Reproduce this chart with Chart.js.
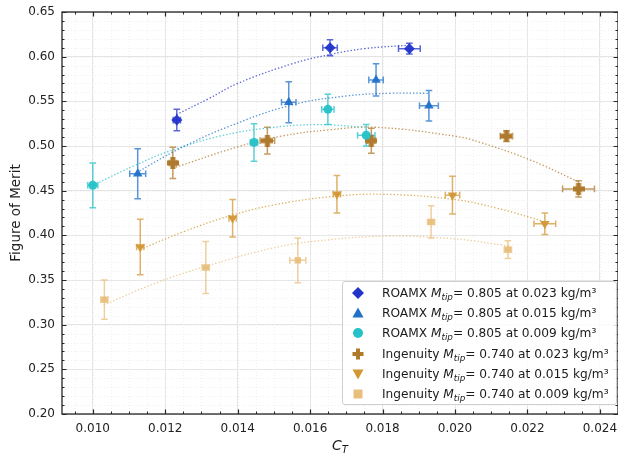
<!DOCTYPE html>
<html>
<head>
<meta charset="utf-8">
<script src="https://cdn.jsdelivr.net/npm/chart.js@4.4.0/dist/chart.umd.min.js"></script>
<style>
  html, body { margin: 0; padding: 0; background: #fff; }
  #wrap { position: relative; width: 618px; height: 457px; font-family: "DejaVu Sans", sans-serif; color: #1a1a1a; }
  #chart { position: absolute; left: 0; top: 0; }
  #legend {
    position: absolute; left: 342px; top: 281px; width: 273px; height: 121px;
    border: 1px solid #cfcfcf; border-radius: 3px; background: rgba(255, 255, 255, 0.85);
    font-size: 12.2px; padding-top: 1px;
  }
  .row { position: relative; height: 20.2px; line-height: 20.2px; white-space: nowrap; }
  .row svg { position: absolute; left: 8px; top: 3px; }
  .row span.txt { position: absolute; left: 39px; top: 0; }
  .row i sub { font-size: 0.72em; vertical-align: -0.3em; line-height: 0; }
  #xTitle { position: absolute; left: 300px; top: 437px; width: 80px; text-align: center; font-size: 14px; line-height: 16px; }
  #xTitle sub { font-size: 0.72em; vertical-align: -0.3em; line-height: 0; }
</style>
</head>
<body>
<div id="wrap">
  <canvas id="chart" width="618" height="457"></canvas>
  <div id="legend"></div>
  <div id="xTitle"><i>C<sub>T</sub></i></div>
</div>
<script>
// Figure of merit vs thrust coefficient, ROAMX vs Ingenuity rotors

// Axis ticks
const xTickValues = [0.010, 0.012, 0.014, 0.016, 0.018, 0.020, 0.022, 0.024];
const yTickValues = [0.20, 0.25, 0.30, 0.35, 0.40, 0.45, 0.50, 0.55, 0.60, 0.65];

// ROAMX, Mtip 0.805, 0.023 kg/m3
const roamx023X = [0.01232, 0.01655, 0.01874];
const roamx023Y = [0.529, 0.610, 0.609];
const roamx023XErr = [0.0001, 0.0002, 0.0003];
const roamx023YErr = [0.012, 0.009, 0.006];
const roamx023FitX = [0.0123, 0.0132, 0.0140, 0.0155, 0.0165, 0.0175, 0.0188];
const roamx023FitY = [0.535, 0.553, 0.570, 0.592, 0.602, 0.609, 0.613];

// ROAMX, Mtip 0.805, 0.015 kg/m3
const roamx015X = [0.01124, 0.01541, 0.01782, 0.01928];
const roamx015Y = [0.469, 0.549, 0.574, 0.545];
const roamx015XErr = [0.00022, 0.0002, 0.0002, 0.00026];
const roamx015YErr = [0.028, 0.023, 0.018, 0.017];
const roamx015FitX = [0.0112, 0.0123, 0.0137, 0.0155, 0.0170, 0.0182, 0.0193];
const roamx015FitY = [0.470, 0.495, 0.521, 0.546, 0.556, 0.559, 0.559];

// ROAMX, Mtip 0.805, 0.009 kg/m3
const roamx009X = [0.0100, 0.01445, 0.01649, 0.01755];
const roamx009Y = [0.456, 0.504, 0.541, 0.512];
const roamx009XErr = [0.00014, 0.0001, 0.00017, 0.00024];
const roamx009YErr = [0.025, 0.021, 0.017, 0.012];
const roamx009FitX = [0.0100, 0.0112, 0.0121, 0.0135, 0.0148, 0.0162, 0.0175];
const roamx009FitY = [0.456, 0.479, 0.494, 0.511, 0.520, 0.524, 0.521];

// Ingenuity, Mtip 0.740, 0.023 kg/m3
const ing023X = [0.01221, 0.01482, 0.01769, 0.02142, 0.02341];
const ing023Y = [0.481, 0.506, 0.506, 0.511, 0.452];
const ing023XErr = [0.0001, 0.0002, 0.0001, 0.00017, 0.00044];
const ing023YErr = [0.0175, 0.015, 0.014, 0.006, 0.009];
const ing023FitX = [0.0122, 0.0140, 0.0152, 0.0165, 0.0178, 0.0200, 0.0207, 0.0221, 0.0234];
const ing023FitY = [0.475, 0.499, 0.511, 0.518, 0.521, 0.511, 0.504, 0.484, 0.460];

// Ingenuity, Mtip 0.740, 0.015 kg/m3
const ing015X = [0.01131, 0.01386, 0.01674, 0.01993, 0.02248];
const ing015Y = [0.387, 0.419, 0.446, 0.445, 0.413];
const ing015XErr = [0.0001, 0.0001, 0.0001, 0.0002, 0.0003];
const ing015YErr = [0.031, 0.021, 0.021, 0.021, 0.012];
const ing015FitX = [0.0113, 0.0125, 0.0138, 0.0150, 0.0165, 0.0180, 0.0200, 0.0212, 0.0225];
const ing015FitY = [0.384, 0.404, 0.422, 0.434, 0.443, 0.446, 0.440, 0.430, 0.415];

// Ingenuity, Mtip 0.740, 0.009 kg/m3
const ing009X = [0.01032, 0.01312, 0.01566, 0.01934, 0.02146];
const ing009Y = [0.328, 0.364, 0.372, 0.415, 0.384];
const ing009XErr = [0.0001, 0.0001, 0.00022, 0.0001, 0.0001];
const ing009YErr = [0.022, 0.029, 0.025, 0.018, 0.010];
const ing009FitX = [0.0103, 0.0117, 0.0131, 0.0150, 0.0165, 0.0182, 0.0200, 0.0215];
const ing009FitY = [0.322, 0.346, 0.365, 0.386, 0.395, 0.399, 0.396, 0.388];

// Legend text parts
const rotorNames = ['ROAMX', 'ROAMX', 'ROAMX', 'Ingenuity', 'Ingenuity', 'Ingenuity'];
const tipMach = ['0.805', '0.805', '0.805', '0.740', '0.740', '0.740'];
const densities = ['0.023', '0.015', '0.009', '0.023', '0.015', '0.009'];

function rgba(hex, a) {
  const n = parseInt(hex.slice(1), 16);
  return `rgba(${(n >> 16) & 255}, ${(n >> 8) & 255}, ${n & 255}, ${a})`;
}

// Filled plus marker (matplotlib 'P')
function makePlusMarker(color, size) {
  const c = document.createElement('canvas');
  c.width = size;
  c.height = size;
  const g = c.getContext('2d');
  g.fillStyle = color;
  const t = Math.round(size * 0.4);
  const o = (size - t) / 2;
  g.fillRect(o, 0, t, size);
  g.fillRect(0, o, size, t);
  return c;
}

const series = [
  { color: '#2334cb', marker: 'rectRot', radius: 5.5, rot: 0, x: roamx023X, y: roamx023Y, xErr: roamx023XErr, yErr: roamx023YErr, fx: roamx023FitX, fy: roamx023FitY },
  { color: '#2171c9', marker: 'triangle', radius: 5.5, rot: 0, x: roamx015X, y: roamx015Y, xErr: roamx015XErr, yErr: roamx015YErr, fx: roamx015FitX, fy: roamx015FitY },
  { color: '#25c2c8', marker: 'circle', radius: 4.5, rot: 0, x: roamx009X, y: roamx009Y, xErr: roamx009XErr, yErr: roamx009YErr, fx: roamx009FitX, fy: roamx009FitY },
  { color: '#b07a2c', marker: 'plus', radius: 5.5, rot: 0, x: ing023X, y: ing023Y, xErr: ing023XErr, yErr: ing023YErr, fx: ing023FitX, fy: ing023FitY },
  { color: '#d39836', marker: 'triangle', radius: 5.5, rot: 180, x: ing015X, y: ing015Y, xErr: ing015XErr, yErr: ing015YErr, fx: ing015FitX, fy: ing015FitY },
  { color: '#e8bf7d', marker: 'rect', radius: 4.5, rot: 0, x: ing009X, y: ing009Y, xErr: ing009XErr, yErr: ing009YErr, fx: ing009FitX, fy: ing009FitY }
];

const datasets = [];
series.forEach(s => {
  datasets.push({
    type: 'scatter',
    data: s.x.map((v, i) => ({ x: v, y: s.y[i] })),
    xErr: s.xErr,
    yErr: s.yErr,
    errColor: s.color,
    backgroundColor: rgba(s.color, 0.95),
    borderColor: rgba(s.color, 0.95),
    borderWidth: 0,
    pointStyle: s.marker === 'plus' ? makePlusMarker(s.color, 12) : s.marker,
    pointRotation: s.rot,
    pointRadius: s.radius,
    pointHoverRadius: s.radius,
    order: 1
  });
  datasets.push({
    type: 'line',
    data: s.fx.map((v, i) => ({ x: v, y: s.fy[i] })),
    borderColor: rgba(s.color, 0.75),
    borderWidth: 1.3,
    borderDash: [1.4, 2],
    pointRadius: 0,
    tension: 0.4,
    fill: false,
    order: 5
  });
});

// Error bars with caps, drawn under the markers
const errorBarPlugin = {
  id: 'errorBars',
  beforeDatasetsDraw(chart) {
    const { ctx, scales: { x, y } } = chart;
    const cap = 3.3;
    ctx.save();
    ctx.lineWidth = 1.5;
    chart.data.datasets.forEach(ds => {
      if (!ds.yErr) return;
      ctx.strokeStyle = rgba(ds.errColor, 0.75);
      ds.data.forEach((p, i) => {
        const px = x.getPixelForValue(p.x);
        const py = y.getPixelForValue(p.y);
        const y1 = y.getPixelForValue(p.y - ds.yErr[i]);
        const y2 = y.getPixelForValue(p.y + ds.yErr[i]);
        const x1 = x.getPixelForValue(p.x - ds.xErr[i]);
        const x2 = x.getPixelForValue(p.x + ds.xErr[i]);
        ctx.beginPath();
        ctx.moveTo(px, y1); ctx.lineTo(px, y2);
        ctx.moveTo(px - cap, y1); ctx.lineTo(px + cap, y1);
        ctx.moveTo(px - cap, y2); ctx.lineTo(px + cap, y2);
        ctx.moveTo(x1, py); ctx.lineTo(x2, py);
        ctx.moveTo(x1, py - cap); ctx.lineTo(x1, py + cap);
        ctx.moveTo(x2, py - cap); ctx.lineTo(x2, py + cap);
        ctx.stroke();
      });
    });
    ctx.restore();
  }
};

// Minor dotted grid, inward ticks on all sides and the frame
const frameMinor = { x: 0.0005, y: 0.01 };
const framePlugin = {
  id: 'frame',
  beforeDatasetsDraw(chart) {
    const { ctx, chartArea: a, scales: { x, y } } = chart;
    ctx.save();
    ctx.strokeStyle = '#ececec';
    ctx.lineWidth = 0.8;
    ctx.setLineDash([1, 2]);
    for (let v = Math.ceil(x.min / frameMinor.x) * frameMinor.x; v < x.max; v += frameMinor.x) {
      const px = Math.round(x.getPixelForValue(v)) + 0.5;
      ctx.beginPath(); ctx.moveTo(px, a.top); ctx.lineTo(px, a.bottom); ctx.stroke();
    }
    for (let v = y.min + frameMinor.y; v < y.max - 1e-9; v += frameMinor.y) {
      const py = Math.round(y.getPixelForValue(v)) + 0.5;
      ctx.beginPath(); ctx.moveTo(a.left, py); ctx.lineTo(a.right, py); ctx.stroke();
    }
    ctx.restore();
  },
  afterDraw(chart) {
    const { ctx, chartArea: a, scales: { x, y } } = chart;
    ctx.save();
    ctx.strokeStyle = '#262626';
    ctx.lineWidth = 1;
    // minor ticks
    for (let v = Math.ceil(x.min / frameMinor.x) * frameMinor.x; v < x.max; v += frameMinor.x) {
      const px = Math.round(x.getPixelForValue(v)) + 0.5;
      ctx.beginPath();
      ctx.moveTo(px, a.bottom); ctx.lineTo(px, a.bottom - 2.5);
      ctx.moveTo(px, a.top); ctx.lineTo(px, a.top + 2.5);
      ctx.stroke();
    }
    for (let v = y.min; v < y.max + 1e-9; v += frameMinor.y) {
      const py = Math.round(y.getPixelForValue(v)) + 0.5;
      ctx.beginPath();
      ctx.moveTo(a.left, py); ctx.lineTo(a.left + 2.5, py);
      ctx.moveTo(a.right, py); ctx.lineTo(a.right - 2.5, py);
      ctx.stroke();
    }
    // major ticks
    ctx.lineWidth = 1.2;
    xTickValues.forEach(v => {
      const px = Math.round(x.getPixelForValue(v)) + 0.5;
      ctx.beginPath();
      ctx.moveTo(px, a.bottom); ctx.lineTo(px, a.bottom - 4.5);
      ctx.moveTo(px, a.top); ctx.lineTo(px, a.top + 4.5);
      ctx.stroke();
    });
    yTickValues.forEach(v => {
      const py = Math.round(y.getPixelForValue(v)) + 0.5;
      ctx.beginPath();
      ctx.moveTo(a.left, py); ctx.lineTo(a.left + 4.5, py);
      ctx.moveTo(a.right, py); ctx.lineTo(a.right - 4.5, py);
      ctx.stroke();
    });
    // frame
    ctx.lineWidth = 1.3;
    ctx.strokeRect(a.left, a.top, a.right - a.left, a.bottom - a.top);
    ctx.restore();
  }
};

const tickFont = { family: '"DejaVu Sans", sans-serif', size: 12 };

new Chart(document.getElementById('chart'), {
  type: 'scatter',
  data: { datasets },
  plugins: [framePlugin, errorBarPlugin],
  options: {
    responsive: false,
    animation: false,
    devicePixelRatio: 1,
    layout: { autoPadding: false, padding: { top: 12, right: 0, left: 0, bottom: 0 } },
    plugins: { legend: { display: false }, tooltip: { enabled: false } },
    scales: {
      x: {
        type: 'linear',
        min: 0.00915,
        max: 0.0245,
        afterBuildTicks: scale => { scale.ticks = xTickValues.map(v => ({ value: v })); },
        afterFit: scale => { scale.height = 43; },
        // label gap comes from an invisible tick so the scale adds no side padding
        ticks: { font: tickFont, color: '#222', padding: 0, maxRotation: 0, callback: v => v.toFixed(3) },
        grid: { color: '#e4e4e4', lineWidth: 1, drawTicks: true, tickLength: 8, tickColor: 'rgba(0,0,0,0)' },
        border: { display: false }
      },
      y: {
        type: 'linear',
        min: 0.20,
        max: 0.65,
        afterBuildTicks: scale => { scale.ticks = yTickValues.map(v => ({ value: v })); },
        afterFit: scale => { scale.width = 62; },
        ticks: { font: tickFont, color: '#222', padding: 0, callback: v => v.toFixed(2) },
        grid: { color: '#e4e4e4', lineWidth: 1, drawTicks: true, tickLength: 7, tickColor: 'rgba(0,0,0,0)' },
        border: { display: false },
        title: { display: true, text: 'Figure of Merit', color: '#222', font: { family: '"DejaVu Sans", sans-serif', size: 13.5 }, padding: { top: 8, bottom: 0 } }
      }
    }
  }
});

// Legend built as HTML so the M_tip subscript stays real text
const legendMarkers = [
  c => `<polygon points="7,1 13,7 7,13 1,7" fill="${c}"/>`,
  c => `<polygon points="7,1.5 12.5,11.5 1.5,11.5" fill="${c}"/>`,
  c => `<circle cx="7" cy="7" r="5" fill="${c}"/>`,
  c => `<rect x="5" y="1.5" width="4" height="11" fill="${c}"/><rect x="1.5" y="5" width="11" height="4" fill="${c}"/>`,
  c => `<polygon points="1.5,2.5 12.5,2.5 7,12.5" fill="${c}"/>`,
  c => `<rect x="2.5" y="2.5" width="9" height="9" fill="${c}"/>`
];
document.getElementById('legend').innerHTML = series.map((s, i) => `
  <div class="row">
    <svg width="14" height="14">${legendMarkers[i](s.color)}</svg>
    <span class="txt">${rotorNames[i]} <i>M<sub>tip</sub></i>= ${tipMach[i]} at ${densities[i]} kg/m³</span>
  </div>`).join('');
</script>
</body>
</html>
